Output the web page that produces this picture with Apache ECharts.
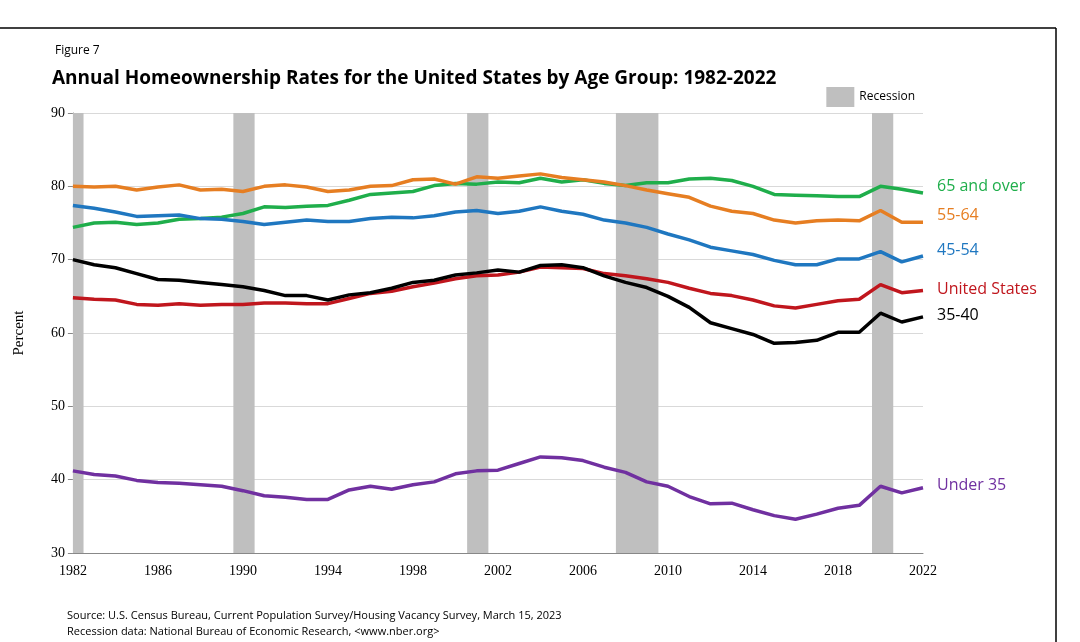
<!DOCTYPE html>
<html>
<head>
<script src="https://cdn.jsdelivr.net/npm/echarts@6/dist/echarts.min.js"></script>
<style>html,body,#c{width:100%;height:100%;margin:0;padding:0;background:#fff}</style>
</head>
<body>
<div id="c"></div>
<script>
var years = [];
for (var y = 1982; y <= 2022; y++) years.push(y);

var unitedStates = [64.8,64.6,64.5,63.9,63.8,64.0,63.8,63.9,63.9,64.1,64.1,64.0,64.0,64.7,65.4,65.7,66.3,66.8,67.4,67.8,67.9,68.3,69.0,68.9,68.8,68.1,67.8,67.4,66.9,66.1,65.4,65.1,64.5,63.7,63.4,63.9,64.4,64.6,66.6,65.5,65.8];
var age35 = [70.0,69.3,68.9,68.1,67.3,67.2,66.9,66.6,66.3,65.8,65.1,65.1,64.5,65.2,65.5,66.1,66.9,67.2,67.9,68.2,68.6,68.3,69.2,69.3,68.9,67.8,66.9,66.2,65.0,63.5,61.4,60.6,59.8,58.6,58.7,59.0,60.1,60.1,62.7,61.5,62.2];
var age45 = [77.4,77.0,76.5,75.9,76.0,76.1,75.6,75.5,75.2,74.8,75.1,75.4,75.2,75.2,75.6,75.8,75.7,76.0,76.5,76.7,76.3,76.6,77.2,76.6,76.2,75.4,75.0,74.4,73.5,72.7,71.7,71.2,70.7,69.9,69.3,69.3,70.1,70.1,71.1,69.7,70.5];
var age55 = [80.0,79.9,80.0,79.5,79.9,80.2,79.5,79.6,79.3,80.0,80.2,79.9,79.3,79.5,80.0,80.1,80.9,81.0,80.3,81.3,81.1,81.4,81.7,81.2,80.9,80.6,80.1,79.5,79.0,78.5,77.3,76.6,76.3,75.4,75.0,75.3,75.4,75.3,76.7,75.1,75.1];
var age65 = [74.4,75.0,75.1,74.8,75.0,75.5,75.6,75.8,76.3,77.2,77.1,77.3,77.4,78.1,78.9,79.1,79.3,80.1,80.4,80.3,80.6,80.5,81.1,80.6,80.9,80.4,80.1,80.5,80.5,81.0,81.1,80.8,80.0,78.9,78.8,78.7,78.6,78.6,80.0,79.6,79.1];
var under35 = [41.2,40.7,40.5,39.9,39.6,39.5,39.3,39.1,38.5,37.8,37.6,37.3,37.3,38.6,39.1,38.7,39.3,39.7,40.8,41.2,41.3,42.2,43.1,43.0,42.6,41.7,41.0,39.7,39.1,37.7,36.7,36.8,35.9,35.1,34.6,35.3,36.1,36.5,39.1,38.2,38.9];
var recessions = [[1982, 1982.5], [1989.55, 1990.55], [2000.55, 2001.55], [2007.55, 2009.55], [2019.6, 2020.6]];

function pairs(vals) { return years.map(function (y, i) { return [y, vals[i]]; }); }
function line(name, vals, color, dy) {
  return {
    name: name, type: 'line', data: pairs(vals), symbol: 'none', z: 3,
    lineStyle: { color: color, width: 3.5 }, itemStyle: { color: color },
    endLabel: { show: true, formatter: name, color: color, fontSize: 16, distance: 14,
      offset: [0, dy || 0], fontFamily: 'Open Sans' }
  };
}

var chart = echarts.init(document.getElementById('c'));
chart.setOption({
  animation: false,
  textStyle: { fontFamily: 'Open Sans' },
  title: [
    { text: 'Figure 7', left: 50, top: 36, textStyle: { fontSize: 12, fontWeight: 'normal', color: '#000' } },
    { text: 'Annual Homeownership Rates for the United States by Age Group: 1982-2022', left: 47, top: 56,
      textStyle: { fontSize: 19, fontWeight: 'bold', color: '#000' } },
    { text: 'Source: U.S. Census Bureau, Current Population Survey/Housing Vacancy Survey, March 15, 2023\nRecession data: National Bureau of Economic Research, <www.nber.org>',
      left: 62, top: 603, textStyle: { fontSize: 11, fontWeight: 'normal', color: '#000', lineHeight: 16 } }
  ],
  graphic: [
    { type: 'line', shape: { x1: 0, y1: 28, x2: 1056, y2: 28 }, style: { stroke: '#000', lineWidth: 1.5 } },
    { type: 'line', shape: { x1: 1056, y1: 28, x2: 1056, y2: 642 }, style: { stroke: '#000', lineWidth: 1.5 } }
  ],
  legend: { data: [{ name: 'Recession', icon: 'rect' }], right: 160, top: 82, itemWidth: 28, itemHeight: 20,
    textStyle: { fontSize: 12, color: '#000' } },
  grid: { left: 65, right: 157, top: 113, bottom: 89 },
  xAxis: {
    type: 'value', min: 1982, max: 2022, interval: 2,
    axisLine: { lineStyle: { color: '#888' } },
    axisTick: { show: false },
    splitLine: { show: false },
    axisLabel: { fontSize: 14, color: '#000', fontFamily: 'Liberation Serif',
      formatter: function (v) { return (v - 1982) % 4 === 0 ? String(v) : ''; } }
  },
  yAxis: {
    type: 'value', min: 30, max: 90, interval: 10,
    name: 'Percent', nameLocation: 'middle', nameGap: 42,
    nameTextStyle: { fontSize: 15, color: '#000', fontFamily: 'Liberation Serif' },
    axisLine: { show: true, lineStyle: { color: '#888' } },
    axisLabel: { fontSize: 14, color: '#000', fontFamily: 'Liberation Serif' },
    splitLine: { lineStyle: { color: '#d9d9d9' } }
  },
  series: [
    { name: 'Recession', type: 'line', data: [], itemStyle: { color: '#bfbfbf' },
      markArea: { silent: true, itemStyle: { color: '#bfbfbf' },
        data: recessions.map(function (r) { return [{ xAxis: r[0] }, { xAxis: r[1] }]; }) } },
    line('65 and over', age65, '#1fae4b', -6),
    line('55-64', age55, '#e67e22', -7),
    line('45-54', age45, '#1f77c0', -6),
    line('United States', unitedStates, '#c0161d', -1),
    line('35-40', age35, '#000000', -1),
    line('Under 35', under35, '#7030a0', -2)
  ]
});
</script>
</body>
</html>
